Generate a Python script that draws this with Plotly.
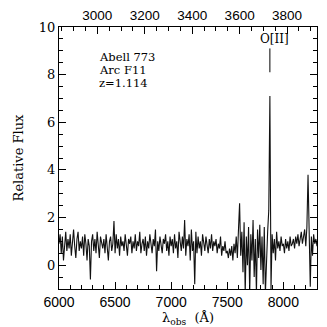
import numpy as np
import plotly.graph_objects as go

z = 1.114
lam_start = 6000
lam_step = 10
flux = [
    0.9, 1.3, 0.5, 1.2, 0.2, 1.0, 1.4, 0.6, 1.1, 0.7,
    1.3, 0.4, 0.9, 1.5, 0.8, 0.3, 1.1, 1.4, 0.6, 1.0,
    0.7, 1.2, 0.4, 1.3, 0.9, 0.2, 1.1, 0.8, -0.6, 1.0,
    1.3, 0.6, 1.1, 0.5, 1.4, 0.8, 0.3, 1.2, 0.9, 0.7,
    1.1, 0.5, 1.3, 0.8, 0.2, 1.0, 1.2, 0.6, 0.9, 1.85,
    0.5, 1.3, 0.7, 1.1, 0.4, 1.2, 0.8, 1.0, 0.6, 1.3,
    0.8, 0.4, 1.1, 0.9, 1.2, 0.5, 1.0, 0.7, 1.3, 0.6,
    1.0, 0.8, 1.4, 0.5, 0.9, 1.1, 0.6, 1.2, 0.4, 1.0,
    0.7, 1.3, 0.9, 0.5, 1.1, 0.8, 1.5, -0.25, 1.0, 0.6,
    1.2, 0.8, 0.5, 1.1, 0.9, 1.3, 0.6, 1.0, 0.4, 1.2,
    0.8, 1.1, 0.5, 1.3, 0.7, 1.0, 0.3, 1.4, 0.9, 0.6,
    1.2, 0.7, 1.9, 0.4, 1.1, 0.8, 1.3, 0.2, 1.5, 0.6,
    1.0, -0.8, 1.4, 0.5, 1.2, 0.7, 1.0, 0.4, 1.3, 0.8,
    0.6, 1.2, 0.9, 0.5, 1.1, 0.7, 1.3, 0.6, 1.0, 0.8,
    1.1, 0.5, 0.9, 0.7, 1.2, 0.4, 0.8, 0.6, 1.0, 0.5,
    0.6, 0.3, 0.7, 0.4, 0.8, 0.2, 0.9, 0.5, 1.2, 0.3,
    1.5, 2.6, 0.4, 1.4, -0.3, 1.8, -1.2, 1.2, 0.0, 1.6,
    -1.2, 1.3, 0.2, 1.9, -0.5, 1.1, -1.2, 1.5, 0.3, 1.7,
    -0.2, 1.2, -0.8, 1.6, -1.2, 0.5, 1.4, 2.3, 7.1, -1.0,
    1.3, 0.5, 1.1, 0.2, 1.4, 0.7, 1.0, 0.6, 1.2, 0.8,
    0.9, 0.5, 1.1, 0.7, 1.0, 0.6, 1.2, 0.8, 0.9, 1.1,
    0.7, 1.2, 0.9, 1.3, 0.8, 1.1, 1.4, 0.9, 1.2, 1.5,
    0.8, 1.6, 3.8, 0.3, -0.9, 1.2, 0.4, 1.3, 0.9, 1.1,
    0.8,
]
wavelength = [lam_start + lam_step * i for i in range(len(flux))]

oii_obs = 7880
oii_marker_y = [8.1, 9.1]
info_lines = ["Abell 773", "Arc F11", "z=1.114"]
info_y = [8.74, 8.19, 7.64]

x_range = [6000, 8300]
y_range = [-1, 10]
x_ticks = [6000, 6500, 7000, 7500, 8000]
top_ticks = [3000, 3200, 3400, 3600, 3800]
y_ticks = [0, 2, 4, 6, 8, 10]

serif = "DejaVu Serif"
sans = "Liberation Sans"

fig = go.Figure()
fig.add_trace(go.Scatter(x=wavelength, y=flux, mode="lines",
                         line=dict(color="#111111", width=1.1), showlegend=False,
                         hoverinfo="skip"))
fig.add_trace(go.Scatter(x=[oii_obs, oii_obs], y=oii_marker_y, mode="lines",
                         line=dict(color="black", width=1), showlegend=False))
# invisible trace to anchor top rest-frame axis
fig.add_trace(go.Scatter(x=[x_range[0] / (1 + z), x_range[1] / (1 + z)], y=[None, None],
                         xaxis="x2", mode="lines", showlegend=False))

for txt, yy in zip(info_lines, info_y):
    fig.add_annotation(x=6342, y=yy, text=txt, showarrow=False, xanchor="left",
                       yanchor="middle", font=dict(family=serif, size=11.5, color="black"))
fig.add_annotation(x=7925, y=9.5, text="O[II]", showarrow=False, xanchor="center",
                   yanchor="middle", font=dict(family=serif, size=12, color="black"))

axis_common = dict(showline=True, linecolor="black", linewidth=1, ticks="inside",
                   tickcolor="black", showgrid=False, zeroline=False, automargin=False)

fig.update_layout(
    width=327, height=327,
    margin=dict(l=51, r=18, t=19, b=46),
    paper_bgcolor="white", plot_bgcolor="white",
    xaxis=dict(range=x_range, tickvals=x_ticks, ticklen=7,
               tickfont=dict(family=sans, size=14, color="black"),
               minor=dict(dtick=100, ticklen=4, ticks="inside", tickcolor="black"),
               title=dict(text="λ<sub>obs</sub>  (Å)", font=dict(family=serif, size=13, color="black"),
                          standoff=0),
               **axis_common),
    xaxis2=dict(range=[x_range[0] / (1 + z), x_range[1] / (1 + z)], overlaying="x",
                side="top", anchor="y", tickvals=top_ticks, ticklen=7,
                ticklabelstandoff=1,
                tickfont=dict(family=sans, size=13.5, color="black"),
                minor=dict(dtick=50, ticklen=4, ticks="inside", tickcolor="black"),
                **axis_common),
    yaxis=dict(range=y_range, tickvals=y_ticks, ticklen=7, mirror="ticks",
               tickfont=dict(family=serif, size=13, color="black"),
               minor=dict(dtick=0.5, ticklen=4, ticks="inside", tickcolor="black"),
               title=dict(text="Relative Flux", font=dict(family=serif, size=13, color="black"),
                          standoff=12),
               **axis_common),
)

fig.write_html("out.html")
